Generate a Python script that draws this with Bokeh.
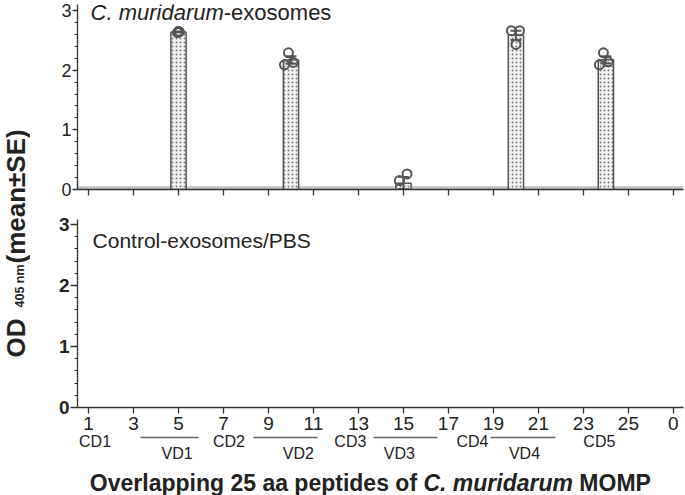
import numpy as np
from bokeh.plotting import figure
from bokeh.layouts import row, column
from bokeh.models import Range1d, FixedTicker, Span, ColumnDataSource
from bokeh.core.properties import value
from bokeh.embed import file_html
from bokeh.resources import INLINE

# ---------------- data ----------------
peptides = [5, 10, 15, 20, 24]
replicates = [
    [2.63, 2.65, 2.64],
    [2.29, 2.09, 2.13],
    [0.26, 0.15, -0.09],
    [2.66, 2.66, 2.43],
    [2.29, 2.09, 2.14],
]
tick_positions = [1, 3, 5, 7, 9, 11, 13, 15, 17, 19, 21, 23, 25, 27]
tick_labels = ["1", "3", "5", "7", "9", "11", "13", "15", "17", "19", "21", "23", "25", "0"]
y_ticks = [0, 1, 2, 3]
cd_labels = ["CD1", "CD2", "CD3", "CD4", "CD5"]
cd_x = [1.29, 7.24, 12.64, 18.07, 23.71]
vd_labels = ["VD1", "VD2", "VD3", "VD4"]
vd_start = [3.31, 8.33, 13.67, 18.87]
vd_end = [5.89, 11.18, 16.51, 21.76]
vd_label_x = [4.94, 10.33, 14.82, 20.38]

# style-only jitter for the replicate dots
jitter = [[-0.04, 0.0, 0.04], [-0.11, -0.29, 0.10], [0.16, -0.18, 0.0],
          [-0.20, 0.16, 0.0], [-0.11, -0.29, 0.10]]

FNAME = "Liberation Sans"
FONT = value(FNAME)
DARK = "#555555"
AXC = "#333333"
TXT = "#222222"

REG = {' ': 278, '(': 333, ')': 333, '-': 333, '.': 278, '/': 278, '±': 549,
       'A': 667, 'B': 667, 'C': 722, 'D': 722, 'E': 667, 'M': 833, 'O': 778, 'P': 667, 'S': 667, 'V': 667,
       'a': 556, 'c': 500, 'd': 556, 'e': 556, 'f': 278, 'g': 556, 'i': 222, 'l': 222, 'm': 833,
       'n': 556, 'o': 556, 'p': 556, 'r': 333, 's': 500, 't': 278, 'u': 556, 'v': 500, 'x': 500}
BOLD = {' ': 278, '(': 333, ')': 333, '-': 333, '.': 278, '/': 278, '±': 549,
        'C': 722, 'D': 722, 'E': 667, 'M': 833, 'O': 778, 'P': 667, 'S': 667,
        'a': 556, 'd': 611, 'e': 556, 'f': 333, 'g': 611, 'i': 278, 'l': 278, 'm': 889,
        'n': 611, 'o': 611, 'p': 611, 'r': 389, 's': 556, 't': 333, 'u': 611, 'v': 556}


def tw(s, size, bold=False):
    t = BOLD if bold else REG
    return sum(t.get(c, 556) for c in s) * size / 1000.0


means = [float(np.mean(r)) for r in replicates]
ses = [float(np.std(r, ddof=1) / np.sqrt(len(r))) for r in replicates]
bar_src = ColumnDataSource(dict(x=peptides, mean=means,
                                upper=[m + s for m, s in zip(means, ses)],
                                lower=[m - s for m, s in zip(means, ses)]))
pt_x = [p + j for p, js in zip(peptides, jitter) for j in js]
pt_y = [v for r in replicates for v in r]

YW = 30
W = 685 - YW
xr = Range1d(0.51, 27.45)


def panel(height, btop, bbottom, ytop, bold_y, tick_out):
    p = figure(width=W, height=height, x_range=xr, y_range=Range1d(0, ytop),
               min_border_left=47, min_border_right=2, min_border_top=btop,
               min_border_bottom=bbottom, output_backend="svg", toolbar_location=None)
    p.grid.visible = False
    p.outline_line_color = None
    p.background_fill_color = "white"
    p.border_fill_color = "white"
    xa = p.xaxis[0]
    xa.ticker = FixedTicker(ticks=tick_positions)
    xa.major_label_overrides = {k: v for k, v in zip(tick_positions, tick_labels)}
    xa.axis_line_color = AXC
    xa.axis_line_width = 1.3
    xa.major_tick_line_color = AXC
    xa.major_tick_line_width = 1.3
    xa.major_tick_in = 0
    xa.major_tick_out = 6
    xa.minor_tick_line_color = None
    xa.major_label_text_font = FNAME
    xa.major_label_text_font_size = "19px"
    xa.major_label_text_color = TXT
    xa.major_label_standoff = 3
    ya = p.yaxis[0]
    ya.ticker = FixedTicker(ticks=y_ticks,
                            minor_ticks=[t / 5 for t in range(1, 15) if t % 5])
    ya.axis_line_color = AXC
    ya.axis_line_width = 1.3
    ya.major_tick_line_color = AXC
    ya.major_tick_line_width = 1.3
    ya.minor_tick_line_color = AXC
    ya.minor_tick_line_width = 1.1
    ya.major_tick_in = 0
    ya.major_tick_out = tick_out
    ya.minor_tick_in = 0
    ya.minor_tick_out = 3
    ya.major_label_text_font = FNAME
    ya.major_label_text_font_size = "19px" if bold_y else "18px"
    ya.major_label_text_font_style = "bold" if bold_y else "normal"
    ya.major_label_text_color = TXT
    ya.major_label_standoff = 1
    return p


# ---------- top panel ----------
top = panel(213, 4, 24, 3.1, False, 5)
top.xaxis[0].major_label_overrides = {k: "" for k in tick_positions}
top.add_layout(Span(location=0.035, dimension="width", line_color="#c8c8c8",
                    line_width=3, level="underlay"))
top.vbar(x="x", top="mean", width=0.68, source=bar_src, fill_color="#f4f4f4",
         line_color=DARK, line_width=1.5, hatch_pattern="dot", hatch_scale=4,
         hatch_color="#777777", hatch_weight=1)
# error bars (mean ± SE)
top.segment(x0="x", y0="lower", x1="x", y1="upper", source=bar_src,
            line_color=DARK, line_width=2)
top.scatter(x="x", y="upper", source=bar_src, marker="dash", size=11,
            line_color=DARK, line_width=2)
top.scatter(x="x", y="lower", source=bar_src, marker="dash", size=11,
            line_color=DARK, line_width=2)
top.scatter(pt_x, pt_y, marker="circle", size=9, fill_color=None,
            line_color=DARK, line_width=2)
TS = 22
t1 = "C. muridarum"
top.text(x=[1.09], y=[2.97], text=[t1], text_font=FONT, text_font_size=f"{TS}px",
         text_font_style="italic", text_color=TXT, text_baseline="middle")
top.text(x=[1.09], y=[2.97], text=["-exosomes"], x_offset=tw(t1, TS),
         text_font=FONT, text_font_size=f"{TS}px", text_color=TXT,
         text_baseline="middle")

# ---------- bottom panel ----------
bot = panel(220, 6, 26, 3.08, True, 7)
bot.text(x=[1.18], y=[2.74], text=["Control-exosomes/PBS"], text_font=FONT,
         text_font_size="21px", text_color=TXT, text_baseline="middle")

# ---------- domain annotation strip ----------
AH = 495 - 213 - 220
ann = figure(width=W, height=AH, x_range=xr, y_range=Range1d(0, AH),
             min_border_left=47, min_border_right=2, min_border_top=0, min_border_bottom=0,
             x_axis_type=None, y_axis_type=None, output_backend="svg", toolbar_location=None)
ann.grid.visible = False
ann.outline_line_color = None
ann.text(x=cd_x, y=[54] * len(cd_x), text=cd_labels, text_align="center",
         text_baseline="middle", text_font=FONT, text_font_size="16px", text_color=TXT)
ann.segment(x0=vd_start, y0=[58] * 4, x1=vd_end, y1=[58] * 4,
            line_color="#666666", line_width=1.3)
ann.text(x=vd_label_x, y=[42] * 4, text=vd_labels, text_align="center",
         text_baseline="middle", text_font=FONT, text_font_size="16px", text_color=TXT)

XS = 23
pieces = [("Overlapping 25 aa peptides of", "bold"), ("C. muridarum", "bold italic"), ("MOMP", "bold")]
sp = tw(" ", XS, True)
total = sum(tw(s, XS, True) for s, _ in pieces) + sp * (len(pieces) - 1)
off = -total / 2
for s, st in pieces:
    ann.text(x=[13.53], y=[12.5], text=[s], x_offset=off, text_font=FONT,
             text_font_size=f"{XS}px", text_font_style=st, text_color=TXT,
             text_baseline="middle", text_align="left")
    off += tw(s, XS, True) + sp

# ---------- y label strip ----------
ylab = figure(width=YW, height=495, x_range=Range1d(0, YW), y_range=Range1d(0, 495),
              min_border=0, x_axis_type=None, y_axis_type=None,
              output_backend="svg", toolbar_location=None)
ylab.grid.visible = False
ylab.outline_line_color = None
# (text, size, x of text centre, page-y where the piece starts)
ypieces = [("OD", 26, 15.5, 357), ("405 nm", 12.5, 19, 307), ("(mean±SE)", 26, 15.5, 263)]
for s, z, xc, ys in ypieces:
    ylab.text(x=[xc], y=[495 - ys], text=[s], angle=np.pi / 2, text_font=FONT,
              text_font_size=f"{z}px", text_font_style="bold", text_color=TXT,
              text_align="left", text_baseline="middle")

layout = row(ylab, column(top, bot, ann, spacing=0), spacing=0)
open("out.html", "w").write(file_html(layout, INLINE))
